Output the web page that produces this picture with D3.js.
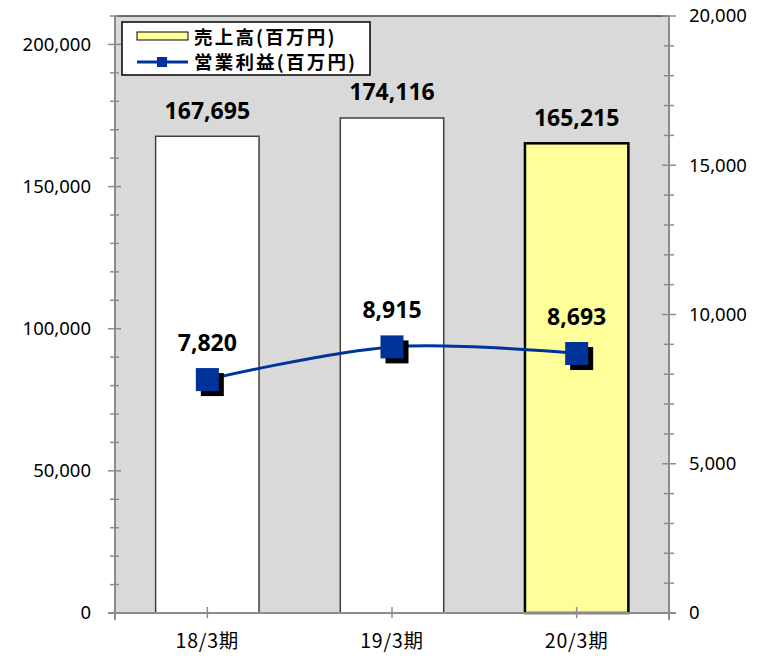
<!DOCTYPE html>
<html>
<head>
<meta charset="utf-8">
<script src="https://cdn.jsdelivr.net/npm/d3@7"></script>
<style>
  body { margin: 0; background: #fff; }
  svg { display: block; }
</style>
</head>
<body>
<div id="chart"></div>
<script>
const categories = ['18/3期', '19/3期', '20/3期'];
const sales = [167695, 174116, 165215];      // 売上高(百万円)
const profit = [7820, 8915, 8693];           // 営業利益(百万円)
const leftTicks = [0, 50000, 100000, 150000, 200000];
const rightTicks = [0, 5000, 10000, 15000, 20000];
const seriesNames = ['売上高(百万円)', '営業利益(百万円)'];

const W = 765, H = 656;
const plot = { left: 115, right: 669, top: 16, bottom: 613 };
const fmt = d3.format(',');
const latin = '"Noto Sans", "Open Sans", sans-serif';
const cjk = '"Noto Sans CJK JP", "Noto Sans", sans-serif';
const axisGray = '#8c8c8c';
const blue = '#003399';

const svg = d3.select('#chart').append('svg')
  .attr('width', W).attr('height', H);

const x = d3.scaleBand()
  .domain(categories)
  .range([plot.left, plot.right])
  .paddingInner(0.44)
  .paddingOuter(0.22);
const cx = d => x(d) + x.bandwidth() / 2;

const yL = d3.scaleLinear().domain([0, 210000]).range([plot.bottom, plot.top]);
const yR = d3.scaleLinear().domain([0, 20000]).range([plot.bottom, plot.top]);

// plot background
svg.append('rect')
  .attr('x', plot.left).attr('y', plot.top)
  .attr('width', plot.right - plot.left).attr('height', plot.bottom - plot.top)
  .attr('fill', '#d9d9d9');
svg.append('line')
  .attr('x1', plot.left).attr('x2', plot.right)
  .attr('y1', plot.top).attr('y2', plot.top)
  .attr('stroke', '#404040').attr('stroke-width', 1.5);

// bars
svg.selectAll('rect.bar')
  .data(categories)
  .enter().append('rect')
  .attr('class', 'bar')
  .attr('x', d => x(d))
  .attr('y', (d, i) => yL(sales[i]))
  .attr('width', x.bandwidth())
  .attr('height', (d, i) => yL(0) - yL(sales[i]))
  .attr('fill', (d, i) => i === 2 ? '#ffff99' : '#ffffff')
  .attr('stroke', (d, i) => i === 2 ? '#000' : '#404040')
  .attr('stroke-width', (d, i) => i === 2 ? 2.5 : 1.5);

// left axis
const leftMinor = d3.range(10000, 210001, 10000).filter(v => v % 50000 !== 0);
const gl = svg.append('g').attr('transform', `translate(${plot.left},0)`);
gl.call(d3.axisLeft(yL).tickValues(leftTicks).tickFormat(fmt).tickSize(0).tickPadding(24))
  .call(g => g.select('.domain').remove())
  .call(g => g.selectAll('text').style('font-family', latin).style('font-size', '18.5px').attr('fill', '#000'));
gl.selectAll('line.maj').data(leftTicks).enter().append('line')
  .attr('x1', -7).attr('x2', 6).attr('y1', d => yL(d)).attr('y2', d => yL(d))
  .attr('stroke', axisGray).attr('stroke-width', 1.5);
gl.selectAll('line.min').data(leftMinor).enter().append('line')
  .attr('x1', -5).attr('x2', 4).attr('y1', d => yL(d)).attr('y2', d => yL(d))
  .attr('stroke', axisGray).attr('stroke-width', 1.5);
gl.append('line').attr('x1', 0).attr('x2', 0).attr('y1', plot.top).attr('y2', plot.bottom + 7)
  .attr('stroke', axisGray).attr('stroke-width', 2);

// right axis
const rightMinor = d3.range(1000, 20001, 1000).filter(v => v % 5000 !== 0);
const gr = svg.append('g').attr('transform', `translate(${plot.right},0)`);
gr.call(d3.axisRight(yR).tickValues(rightTicks).tickFormat(fmt).tickSize(0).tickPadding(20))
  .call(g => g.select('.domain').remove())
  .call(g => g.selectAll('text').style('font-family', latin).style('font-size', '18.5px').attr('fill', '#000'));
gr.selectAll('line.maj').data(rightTicks).enter().append('line')
  .attr('x1', -7).attr('x2', 7).attr('y1', d => yR(d)).attr('y2', d => yR(d))
  .attr('stroke', axisGray).attr('stroke-width', 1.5);
gr.selectAll('line.min').data(rightMinor).enter().append('line')
  .attr('x1', -5).attr('x2', 5).attr('y1', d => yR(d)).attr('y2', d => yR(d))
  .attr('stroke', axisGray).attr('stroke-width', 1.5);
gr.append('line').attr('x1', 0).attr('x2', 0).attr('y1', plot.top).attr('y2', plot.bottom + 7)
  .attr('stroke', axisGray).attr('stroke-width', 2);

// bottom axis
const gb = svg.append('g').attr('transform', `translate(0,${plot.bottom})`);
gb.append('line').attr('x1', plot.left - 7).attr('x2', plot.right + 7).attr('y1', 0).attr('y2', 0)
  .attr('stroke', axisGray).attr('stroke-width', 2);
gb.selectAll('line.t').data(categories).enter().append('line')
  .attr('x1', d => cx(d)).attr('x2', d => cx(d)).attr('y1', -6).attr('y2', 5)
  .attr('stroke', axisGray).attr('stroke-width', 1.5);
gb.selectAll('text').data(categories).enter().append('text')
  .attr('x', d => cx(d)).attr('y', 28)
  .attr('dy', '0.35em')
  .attr('text-anchor', 'middle')
  .style('font-family', cjk).style('font-size', '19.5px')
  .style('letter-spacing', '0.8px')
  .text(d => d);

// profit line
const line = d3.line()
  .x((d, i) => cx(categories[i]))
  .y(d => yR(d))
  .curve(d3.curveCardinal.tension(0));
svg.append('path')
  .datum(profit)
  .attr('d', line)
  .attr('fill', 'none')
  .attr('stroke', blue)
  .attr('stroke-width', 3);

const ms = 23;
svg.selectAll('rect.shadow').data(profit).enter().append('rect')
  .attr('x', (d, i) => cx(categories[i]) - ms / 2 + 5)
  .attr('y', d => yR(d) - ms / 2 + 5)
  .attr('width', ms).attr('height', ms)
  .attr('fill', '#000');
svg.selectAll('rect.marker').data(profit).enter().append('rect')
  .attr('x', (d, i) => cx(categories[i]) - ms / 2)
  .attr('y', d => yR(d) - ms / 2)
  .attr('width', ms).attr('height', ms)
  .attr('fill', blue);

// data labels
svg.selectAll('text.bl').data(sales).enter().append('text')
  .attr('x', (d, i) => cx(categories[i]))
  .attr('y', d => yL(d) - 26)
  .attr('dy', '0.36em')
  .attr('text-anchor', 'middle')
  .style('font-family', latin).style('font-size', '23px').style('font-weight', 'bold')
  .text(d => fmt(d));
svg.selectAll('text.pl').data(profit).enter().append('text')
  .attr('x', (d, i) => cx(categories[i]))
  .attr('y', d => yR(d) - 37)
  .attr('dy', '0.36em')
  .attr('text-anchor', 'middle')
  .style('font-family', latin).style('font-size', '23px').style('font-weight', 'bold')
  .text(d => fmt(d));

// legend
const lg = svg.append('g');
lg.append('rect').attr('x', 122).attr('y', 22).attr('width', 248).attr('height', 53)
  .attr('fill', '#fff').attr('stroke', '#000').attr('stroke-width', 1.5);
lg.append('rect').attr('x', 137).attr('y', 32).attr('width', 51).attr('height', 8)
  .attr('fill', '#ffff99').attr('stroke', '#000').attr('stroke-width', 1);
lg.append('line').attr('x1', 137).attr('x2', 188).attr('y1', 62).attr('y2', 62)
  .attr('stroke', blue).attr('stroke-width', 3);
lg.append('rect').attr('x', 157).attr('y', 57).attr('width', 10).attr('height', 10)
  .attr('fill', blue);
lg.selectAll('text').data(seriesNames).enter().append('text')
  .attr('x', 194).attr('y', (d, i) => 37 + i * 25)
  .attr('dy', '0.38em')
  .style('font-family', cjk).style('font-size', '18.5px').style('font-weight', 'bold')
  .style('letter-spacing', '2.2px')
  .text(d => d);
</script>
</body>
</html>
